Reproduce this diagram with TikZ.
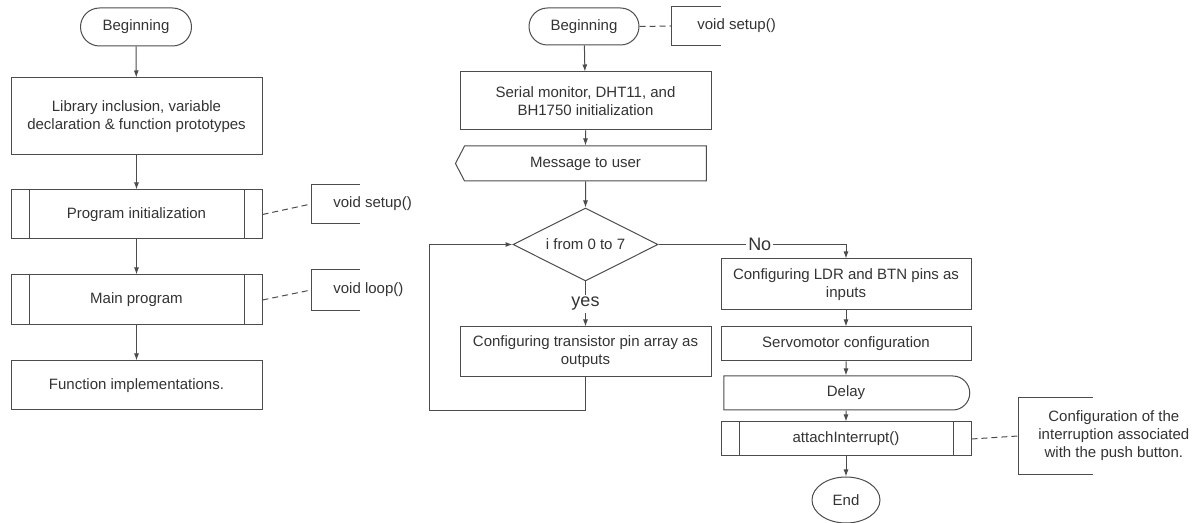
\documentclass[tikz,border=0pt]{standalone}
\usepackage{fontspec}
\setmainfont{Liberation Sans}
\usetikzlibrary{shapes.geometric,shapes.misc,shapes.symbols,arrows.meta}

\newcommand\notebracket[2]{\draw[black!70, line width=0.5pt] ([xshift=#2]#1.north west) -- (#1.north west) -- (#1.south west) -- ([xshift=#2]#1.south west);}

\tikzset{
  base/.style={draw=black!70, line width=0.5pt, text=black!80, font=\fontsize{7.5}{9}\selectfont, align=center, inner sep=1pt},
  proc/.style={base, rectangle, minimum width=125.5pt},
  subproc/.style={proc, path picture={\draw[black!70, line width=0.5pt]
      ([xshift=9pt]path picture bounding box.north west) -- ([xshift=9pt]path picture bounding box.south west)
      ([xshift=-9pt]path picture bounding box.north east) -- ([xshift=-9pt]path picture bounding box.south east);}},
  term/.style={base, rounded rectangle, minimum width=57.5pt, minimum height=19pt},
  msgbox/.style={base, signal, signal to=west, signal pointer angle=125, minimum width=125.5pt, minimum height=17.5pt},
  delaybox/.style={base, rounded rectangle, rounded rectangle west arc=none, minimum width=125pt, minimum height=17pt},
  choice/.style={base, diamond, aspect=2, minimum width=72.5pt, minimum height=36.5pt, inner sep=0pt},
  note/.style={anchor=west, text=black!80, font=\fontsize{7.5}{9}\selectfont, align=center, inner xsep=11pt, inner ysep=0pt},
  arr/.style={draw=black!70, line width=0.5pt, -{Latex[length=3.5pt,width=2.5pt]}},
  link/.style={draw=black!70, line width=0.5pt, densely dashed},
  lbl/.style={fill=white, inner sep=1pt, text=black!80, font=\fontsize{9}{10}\selectfont}
}

\begin{document}
\begin{tikzpicture}[x=0.5pt, y=-0.5pt]
  \useasboundingbox (0,0) rectangle (1200,523);

  % left chart
  \node[term] (lbeg) at (136,27) {Beginning};
  \node[proc, minimum height=38.5pt] (lib) at (136.5,116.5) {Library inclusion, variable\\declaration \& function prototypes};
  \node[subproc, minimum height=24.5pt] (init) at (136.5,214.5) {Program initialization};
  \node[subproc, minimum height=25pt] (mainprog) at (136.5,300) {Main program};
  \node[proc, minimum height=24.5pt] (impl) at (136.5,385.5) {Function implementations.};
  \node[note, minimum height=19pt] (setupL) at (311,204) {void setup()};
  \node[note, minimum height=20pt] (loopL) at (311,290) {void loop()};
  \notebracket{setupL}{24.5pt}
  \notebracket{loopL}{24.5pt}

  \draw[arr] (lbeg) -- (lib);
  \draw[arr] (lib) -- (init);
  \draw[arr] (init) -- (mainprog);
  \draw[arr] (mainprog) -- (impl);
  \draw[link] (init.east) -- (setupL.west);
  \draw[link] (mainprog.east) -- (loopL.west);

  % right chart
  \node[term, minimum width=57pt, minimum height=18.5pt] (rbeg) at (584,26.5) {Beginning};
  \node[note, minimum height=19pt, inner xsep=13pt] (setupR) at (671,26) {void setup()};
  \notebracket{setupR}{25pt}
  \node[proc, minimum height=29pt] (serial) at (585.5,101) {Serial monitor, DHT11, and\\BH1750 initialization};
  \node[msgbox] (msg) at (585.5,163.5) {Message to user};
  \node[choice] (loop) at (585.5,244.5) {i from 0 to 7};
  \node[proc, minimum height=25pt] (trans) at (585.5,352) {Configuring transistor pin array as\\outputs};
  \coordinate (back) at (429,411);
  \node[proc, minimum width=125pt, minimum height=25.5pt] (ldr) at (846,284.5) {Configuring LDR and BTN pins as\\inputs};
  \node[proc, minimum width=125pt, minimum height=17pt] (servo) at (846,344) {Servomotor configuration};
  \node[delaybox] (delay) at (846,393) {Delay};
  \node[subproc, minimum width=125pt, minimum height=17pt] (attach) at (846,439) {attachInterrupt()};
  \node[base, ellipse, minimum width=34pt, minimum height=23pt, inner sep=0pt] (end) at (846,500) {End};
  \node[note, minimum height=38pt, inner xsep=10pt] (intnote) at (1018,436) {Configuration of the\\interruption associated\\with the push button.};
  \notebracket{intnote}{37.5pt}

  \draw[link] (rbeg.east) -- (setupR.west);
  \draw[arr] (rbeg) -- (serial);
  \draw[arr] (serial) -- (msg);
  \draw[arr] (msg) -- (loop);
  \draw[arr] (loop) -- node[lbl] {yes} (trans);
  \draw[arr] (trans.south) |- (back) |- (loop.west);
  \draw[arr] (loop.east) -| node[lbl, pos=0.27] {No} (ldr.north);
  \draw[arr] (ldr) -- (servo);
  \draw[arr] (servo) -- (delay);
  \draw[arr] (delay) -- (attach);
  \draw[arr] (attach) -- (end);
  \draw[link] (attach.east) -- (intnote.west);
\end{tikzpicture}
\end{document}
